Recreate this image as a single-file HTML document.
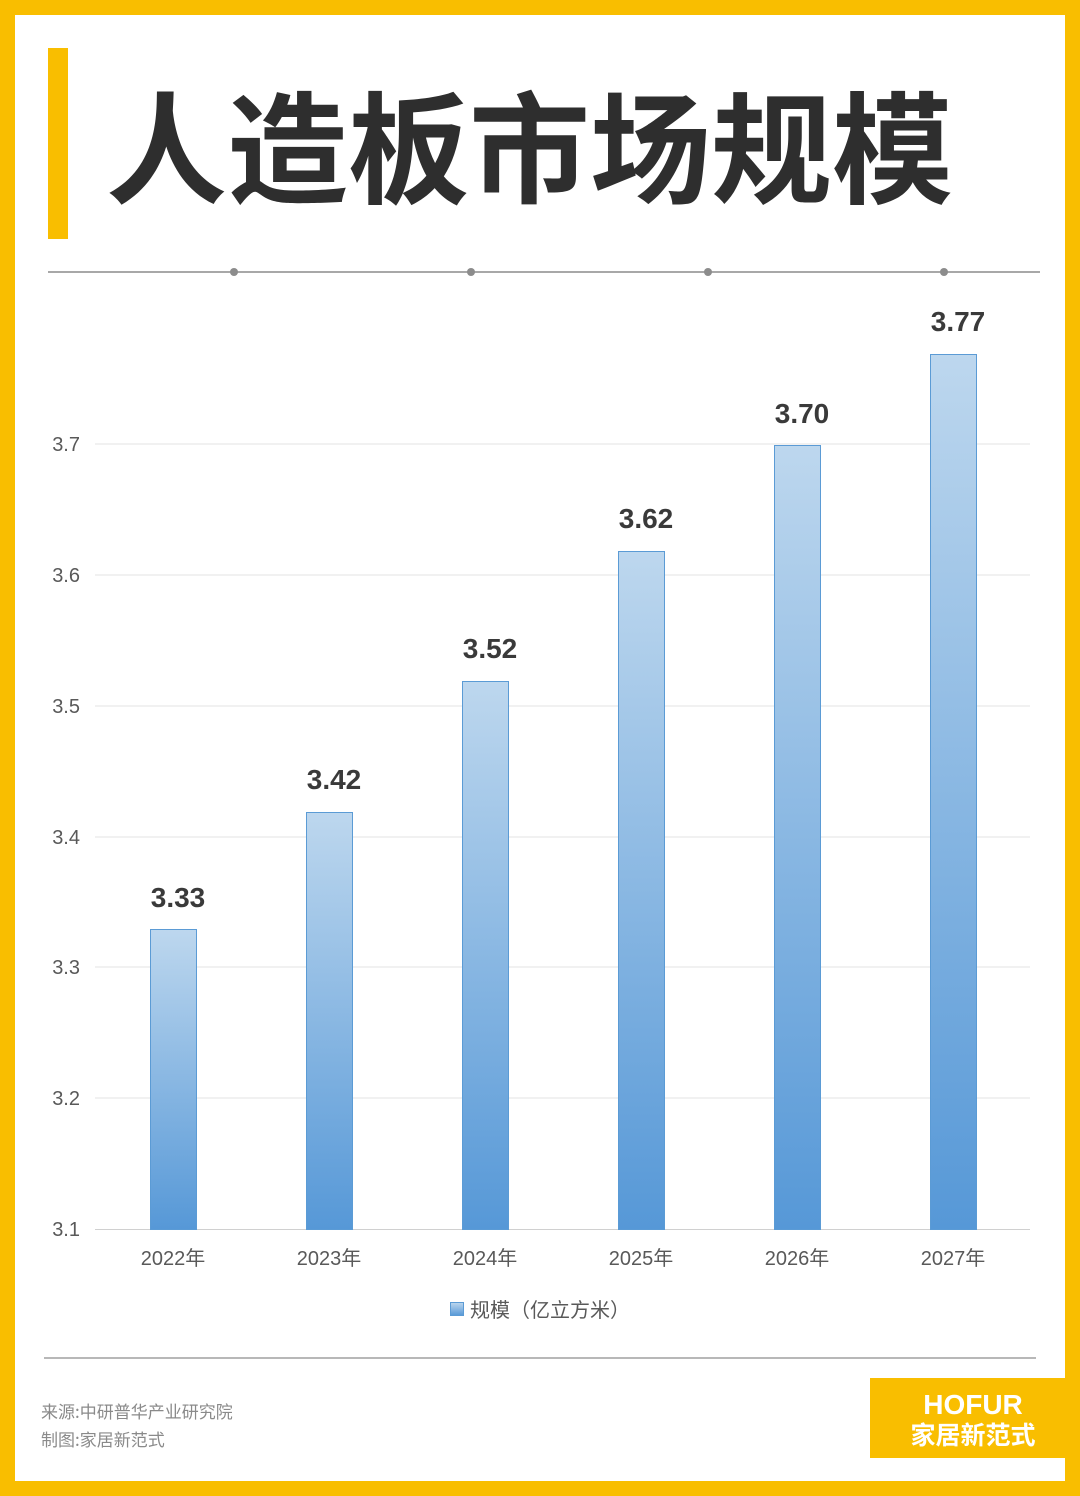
<!DOCTYPE html>
<html><head><meta charset="utf-8"><style>
body{margin:0;}
.p{position:relative;width:1080px;height:1496px;background:#f9be00;overflow:hidden;font-family:"Liberation Sans","Noto Sans CJK SC",sans-serif;}
.w{position:absolute;left:15px;top:15px;width:1050px;height:1466px;background:#fff;}
</style></head><body><div class="p"><div class="w"></div>
<div style="position:absolute;left:48px;top:48px;width:20px;height:191px;background:#f9be00"></div>
<div style="position:absolute;left:106px;top:62px;font-size:121px;font-weight:bold;color:#2e2e2e;line-height:160px;white-space:nowrap;font-family:'Noto Sans CJK SC',sans-serif">人造板市场规模</div>
<svg style="position:absolute;left:0;top:0" width="1080" height="1496">
<defs><linearGradient id="g" x1="0" y1="0" x2="0" y2="1"><stop offset="0" stop-color="#bdd7ee"/><stop offset="1" stop-color="#5698d7"/></linearGradient></defs>
<line x1="48" y1="272" x2="1040" y2="272" stroke="#8c8c8c" stroke-width="1.5"/>
<g fill="#8c8c8c"><circle cx="234" cy="272" r="4"/><circle cx="471" cy="272" r="4"/><circle cx="708" cy="272" r="4"/><circle cx="944" cy="272" r="4"/></g>
<g stroke="#e3e3e3" stroke-width="1">
<line x1="95" y1="444" x2="1030" y2="444"/><line x1="95" y1="575" x2="1030" y2="575"/><line x1="95" y1="706" x2="1030" y2="706"/><line x1="95" y1="837" x2="1030" y2="837"/><line x1="95" y1="967" x2="1030" y2="967"/><line x1="95" y1="1098" x2="1030" y2="1098"/></g>
<line x1="95" y1="1229.5" x2="1030" y2="1229.5" stroke="#d0d0d0"/>
<g font-size="20" fill="#595959" text-anchor="end" font-family="Liberation Sans,sans-serif">
<text x="80" y="451">3.7</text><text x="80" y="582">3.6</text><text x="80" y="713">3.5</text><text x="80" y="844">3.4</text><text x="80" y="974">3.3</text><text x="80" y="1105">3.2</text><text x="80" y="1236">3.1</text></g>
<g fill="url(#g)" stroke="#5b9bd5" stroke-width="1">
<rect x="150.5" y="929.5" width="46" height="300"/>
<rect x="306.5" y="812.5" width="46" height="417"/>
<rect x="462.5" y="681.5" width="46" height="548"/>
<rect x="618.5" y="551.5" width="46" height="678"/>
<rect x="774.5" y="445.5" width="46" height="784"/>
<rect x="930.5" y="354.5" width="46" height="875"/></g>
<g font-size="28" font-weight="bold" fill="#3a3a3a" text-anchor="middle" font-family="Liberation Sans,sans-serif">
<text x="178" y="907">3.33</text><text x="334" y="789">3.42</text><text x="490" y="658">3.52</text><text x="646" y="528">3.62</text><text x="802" y="423">3.70</text><text x="958" y="331">3.77</text></g>
<g font-size="20" fill="#595959" text-anchor="middle" font-family="Liberation Sans,Noto Sans CJK SC,sans-serif">
<text x="173" y="1265">2022年</text><text x="329" y="1265">2023年</text><text x="485" y="1265">2024年</text><text x="641" y="1265">2025年</text><text x="797" y="1265">2026年</text><text x="953" y="1265">2027年</text></g>
<rect x="450.5" y="1302.5" width="13" height="13" fill="url(#g)" stroke="#5b9bd5"/>
<text x="470" y="1317" font-size="20" fill="#595959" font-family="Noto Sans CJK SC,sans-serif">规模（亿立方米）</text>
<line x1="44" y1="1358" x2="1036" y2="1358" stroke="#a0a0a0" stroke-width="1.5"/>
<g font-size="17" fill="#8a8a8a" font-family="Noto Sans CJK SC,sans-serif"><text x="41" y="1418">来源:中研普华产业研究院</text><text x="41" y="1446">制图:家居新范式</text></g>
<rect x="870" y="1378" width="196" height="80" fill="#f9be00"/>
<text x="973" y="1414" font-size="28" font-weight="bold" fill="#fff" text-anchor="middle" font-family="Liberation Sans,sans-serif">HOFUR</text>
<text x="973" y="1444" font-size="25" font-weight="bold" fill="#fff" text-anchor="middle" font-family="Noto Sans CJK SC,sans-serif">家居新范式</text>
</svg></div></body></html>
